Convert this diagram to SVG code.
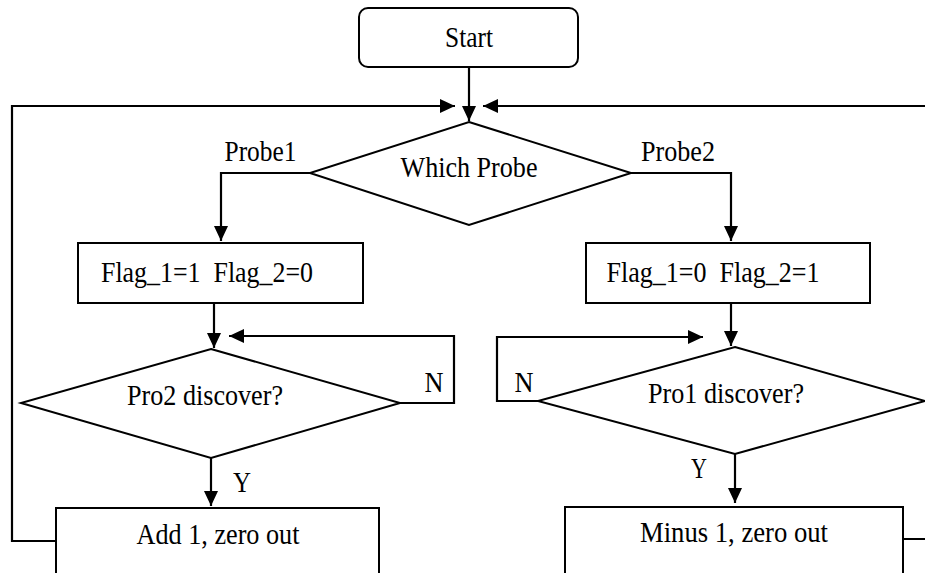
<svg xmlns="http://www.w3.org/2000/svg" width="925" height="573" viewBox="0 0 925 573">
  <style>
    .shape { fill: #fff; stroke: #000; stroke-width: 2; }
    .edge { fill: none; stroke: #000; stroke-width: 2.2; }
    .arrow { marker-end: url(#head); }
    text { font-family: 'Liberation Serif', 'Times New Roman', Times, serif; font-size: 30px; fill: #000; text-anchor: middle; }
  </style>
  <defs>
    <marker id="head" markerUnits="userSpaceOnUse" markerWidth="15" markerHeight="14" refX="15" refY="7" orient="auto">
      <path d="M0,0 L15,7 L0,14 Z" fill="#000"/>
    </marker>
  </defs>
  <rect width="925" height="573" fill="#fff"/>

  <!-- connectors and their branch labels; text is narrowed with textLength -->
  <g id="connectors">
    <path class="edge arrow" d="M469,67 V121"/>
    <path class="edge arrow" d="M56,541 H12 V106 H455"/>
    <path class="edge arrow" d="M903,539 H945 V106 H483"/>
    <path class="edge arrow" d="M310,173 H221 V241"/>
    <path class="edge arrow" d="M631,173 H731 V241"/>
    <path class="edge arrow" d="M214,303 V348"/>
    <path class="edge arrow" d="M400,403 H454 V336 H229"/>
    <path class="edge arrow" d="M211,458 V506"/>
    <path class="edge arrow" d="M731,303 V346"/>
    <path class="edge arrow" d="M538,401 H497 V337 H703"/>
    <path class="edge arrow" d="M735,454 V503"/>
    <text x="260.5" y="161" textLength="72" lengthAdjust="spacingAndGlyphs">Probe1</text>
    <text x="678" y="161" textLength="74" lengthAdjust="spacingAndGlyphs">Probe2</text>
    <text x="434" y="392" textLength="19" lengthAdjust="spacingAndGlyphs">N</text>
    <text x="524" y="392" textLength="19" lengthAdjust="spacingAndGlyphs">N</text>
    <text x="242" y="492" textLength="18" lengthAdjust="spacingAndGlyphs">Y</text>
    <text x="699" y="478" textLength="16" lengthAdjust="spacingAndGlyphs">Y</text>
  </g>

  <g id="start">
    <rect class="shape" x="359" y="8" width="219" height="59" rx="9"/>
    <text x="469" y="47" textLength="48" lengthAdjust="spacingAndGlyphs">Start</text>
  </g>
  <g id="which-probe">
    <polygon class="shape" points="469,122 631,173 469,225 310,173"/>
    <text x="469" y="177" textLength="137" lengthAdjust="spacingAndGlyphs">Which Probe</text>
  </g>
  <g id="flags-probe1">
    <rect class="shape" x="78" y="243" width="285" height="60"/>
    <text x="207" y="282" xml:space="preserve" textLength="212" lengthAdjust="spacingAndGlyphs">Flag_1=1  Flag_2=0</text>
  </g>
  <g id="flags-probe2">
    <rect class="shape" x="586" y="243" width="284" height="60"/>
    <text x="713" y="282" xml:space="preserve" textLength="213" lengthAdjust="spacingAndGlyphs">Flag_1=0  Flag_2=1</text>
  </g>
  <g id="pro2-discover">
    <polygon class="shape" points="211,349 400,403 211,458 21,403"/>
    <text x="205" y="405" textLength="156" lengthAdjust="spacingAndGlyphs">Pro2 discover?</text>
  </g>
  <g id="pro1-discover">
    <polygon class="shape" points="735,347 925,401 735,454 538,401"/>
    <text x="726" y="403" textLength="156" lengthAdjust="spacingAndGlyphs">Pro1 discover?</text>
  </g>
  <g id="add-one">
    <rect class="shape" x="56" y="508" width="323" height="80"/>
    <text x="218" y="544" textLength="163" lengthAdjust="spacingAndGlyphs">Add 1, zero out</text>
  </g>
  <g id="minus-one">
    <rect class="shape" x="565" y="507" width="338" height="80"/>
    <text x="734" y="542" textLength="188" lengthAdjust="spacingAndGlyphs">Minus 1, zero out</text>
  </g>
</svg>
